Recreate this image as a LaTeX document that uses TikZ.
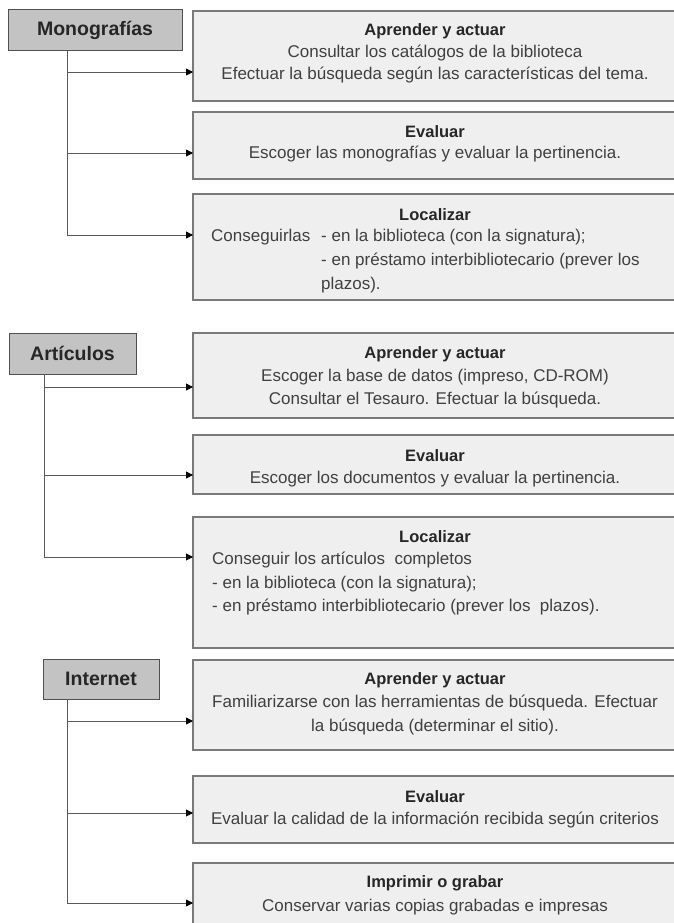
\documentclass[tikz,border=0pt]{standalone}
\usepackage{fontspec}
\setmainfont{Liberation Sans}
\usetikzlibrary{arrows.meta,calc}
\definecolor{boxfill}{HTML}{EFEFEF}
\definecolor{boxline}{HTML}{7A7A7A}
\definecolor{labfill}{HTML}{C3C3C3}
\definecolor{labline}{HTML}{505050}
\definecolor{txtc}{HTML}{404040}
\begin{document}
\begin{tikzpicture}[x=1pt,y=-1pt,
 bigbox/.style={draw=boxline, fill=boxfill, line width=1.3pt, minimum width=484pt, anchor=north west, inner sep=0pt, outer sep=0pt},
 labbox/.style={draw=labline, fill=labfill, line width=1pt, inner sep=0pt, font=\fontsize{19.5}{22}\selectfont\bfseries, text=black!85},
 ttl/.style={font=\fontsize{16.5}{19}\selectfont\bfseries, text=black!85, inner sep=0pt},
 body/.style={font=\fontsize{17}{20}\selectfont, text=txtc, inner sep=0pt},
 conn/.style={draw=black!65, line width=0.8pt},
 arr/.style={conn, -{Triangle[length=7pt,width=7pt,color=black]}}
]
\useasboundingbox (0,0) rectangle (674,923);
\clip (0,0) rectangle (674,923);
\fill[white] (0,0) rectangle (674,923);

% ---------- Monografias ----------
\node[labbox, minimum width=174pt, minimum height=41pt] (mono) at (95,30.5) {Monograf\'ias};
\node[bigbox, minimum height=90pt] (m1) at (193,11) {};
\node[bigbox, minimum height=67pt] (m2) at (193,112) {};
\node[bigbox, minimum height=106pt] (m3) at (193,194) {};
\node[ttl] (m1t) at (435,31) {Aprender y actuar};
\node[body] (m1a) at (435,53) {Consultar los cat\'alogos de la biblioteca};
\node[body] (m1b) at (435,75) {Efectuar la b\'usqueda seg\'un las caracter\'isticas del tema.};
\node[ttl] (m2t) at (435,132) {Evaluar};
\node[body] (m2a) at (435,154) {Escoger las monograf\'ias y evaluar la pertinencia.};
\node[ttl] (m3t) at (435,215) {Localizar};
\node[body, anchor=west] (m3a) at (211,237) {Conseguirlas};
\node[body, anchor=west] (m3b) at (321,237) {- en la biblioteca (con la signatura);};
\node[body, anchor=west] (m3c) at (321,261) {- en pr\'estamo interbibliotecario (prever los};
\node[body, anchor=west] (m3d) at (321,285) {plazos).};
\coordinate (mv) at (67,51);
\coordinate (m1in) at ($(m1.north west)+(0,61)$);
\coordinate (m2in) at ($(m2.north west)+(0,41)$);
\coordinate (m3in) at ($(m3.north west)+(0,41)$);
\draw[conn] (mv) -- (mv |- m3in);
\draw[arr] (mv |- m1in) -- (m1in);
\draw[arr] (mv |- m2in) -- (m2in);
\draw[arr] (mv |- m3in) -- (m3in);

% ---------- Articulos ----------
\node[labbox, minimum width=127pt, minimum height=41pt] (art) at (72.5,353.5) {Art\'iculos};
\node[bigbox, minimum height=85pt] (a1) at (193,333) {};
\node[bigbox, minimum height=59pt] (a2) at (193,435) {};
\node[bigbox, minimum height=131pt] (a3) at (193,517) {};
\node[ttl] (a1t) at (435,354) {Aprender y actuar};
\node[body] (a1a) at (435,377) {Escoger la base de datos (impreso, CD-ROM)};
\node[body] (a1b) at (435,400) {Consultar el Tesauro. Efectuar la b\'usqueda.};
\node[ttl] (a2t) at (435,456) {Evaluar};
\node[body] (a2a) at (435,479) {Escoger los documentos y evaluar la pertinencia.};
\node[ttl] (a3t) at (435,537) {Localizar};
\node[body, anchor=west] (a3a) at (212,560) {Conseguir los art\'iculos\ \ completos};
\node[body, anchor=west] (a3b) at (212,584) {- en la biblioteca (con la signatura);};
\node[body, anchor=west] (a3c) at (212,607) {- en pr\'estamo interbibliotecario (prever los\ \ plazos).};
\coordinate (av) at (44,374);
\coordinate (a1in) at ($(a1.north west)+(0,54)$);
\coordinate (a2in) at ($(a2.north west)+(0,40)$);
\coordinate (a3in) at ($(a3.north west)+(0,40)$);
\draw[conn] (av) -- (av |- a3in);
\draw[arr] (av |- a1in) -- (a1in);
\draw[arr] (av |- a2in) -- (a2in);
\draw[arr] (av |- a3in) -- (a3in);

% ---------- Internet ----------
\node[labbox, minimum width=116pt, minimum height=40pt] (inet) at (101,679) {Internet};
\node[bigbox, minimum height=90pt] (i1) at (193,660) {};
\node[bigbox, minimum height=67pt] (i2) at (193,776) {};
\node[bigbox, minimum height=80pt] (i3) at (193,863) {};
\node[ttl] (i1t) at (435,680) {Aprender y actuar};
\node[body] (i1a) at (435,703) {Familiarizarse con las herramientas de b\'usqueda. Efectuar};
\node[body] (i1b) at (435,727) {la b\'usqueda (determinar el sitio).};
\node[ttl] (i2t) at (435,797) {Evaluar};
\node[body] (i2a) at (435,820) {Evaluar la calidad de la informaci\'on recibida seg\'un criterios};
\node[ttl] (i3t) at (435,883) {Imprimir o grabar};
\node[body] (i3a) at (435,907) {Conservar varias copias grabadas e impresas};
\coordinate (iv) at (67,699);
\coordinate (i1in) at ($(i1.north west)+(0,61)$);
\coordinate (i2in) at ($(i2.north west)+(0,37)$);
\coordinate (i3in) at ($(i3.north west)+(0,40)$);
\draw[conn] (iv) -- (iv |- i3in);
\draw[arr] (iv |- i1in) -- (i1in);
\draw[arr] (iv |- i2in) -- (i2in);
\draw[arr] (iv |- i3in) -- (i3in);
\end{tikzpicture}
\end{document}
